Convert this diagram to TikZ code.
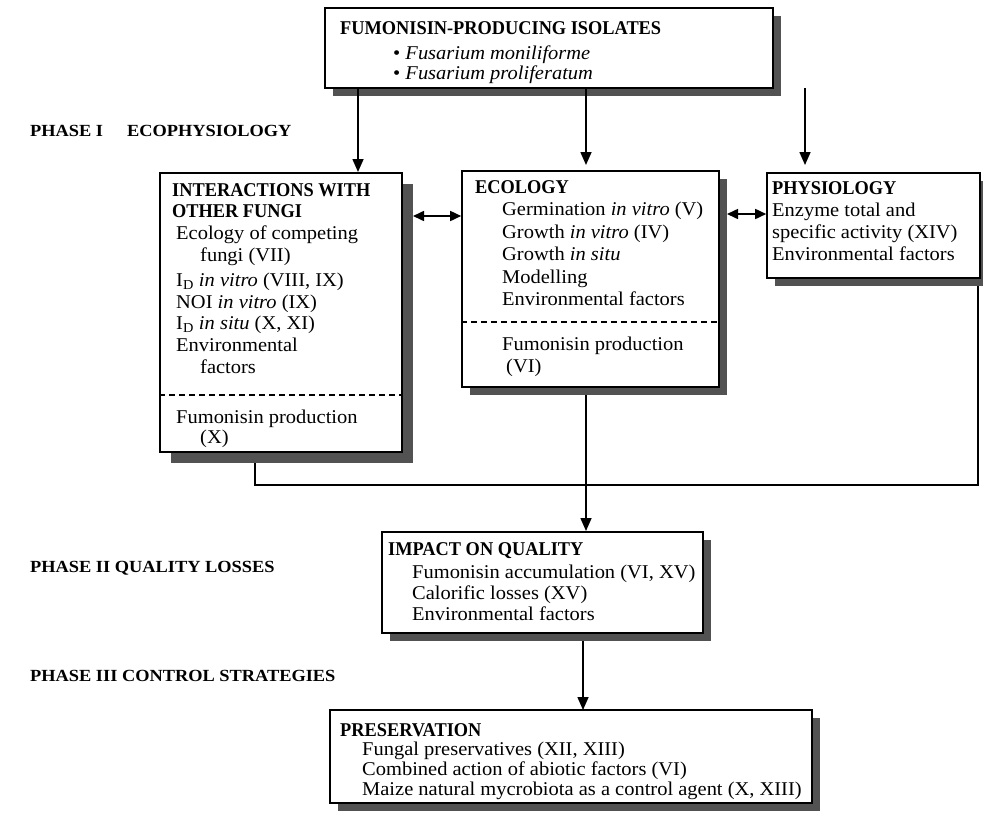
\documentclass[tikz,border=0pt]{standalone}
\usepackage{fontspec}
\setmainfont[FakeStretch=1.05]{Liberation Serif}
\newfontfamily\headfont[FakeStretch=0.94]{Liberation Serif}
\newfontfamily\phasefont[FakeStretch=1.08]{Liberation Serif}
\usetikzlibrary{arrows.meta,shadows,fit}

\begin{document}
\begin{tikzpicture}[x=1pt,y=-1pt,
  frame/.style={draw=black, line width=1.6pt, fill=white, inner sep=0pt,
    drop shadow={shadow xshift=#1, shadow yshift=-#1, fill=black!68, opacity=1}},
  frame/.default=8pt,
  tx/.style={anchor=base west, inner sep=0pt, font=\fontsize{19.5}{21}\selectfont},
  hd/.style={tx, font=\headfont\fontsize{19.5}{21}\selectfont\bfseries},
  ph/.style={anchor=base west, inner sep=0pt, font=\phasefont\fontsize{17}{19}\selectfont\bfseries},
  link/.style={draw=black, line width=1.6pt},
  arr/.style={link, -{Triangle[length=13pt,width=11pt]}},
  dbl/.style={link, {Triangle[length=11pt,width=10pt]}-{Triangle[length=11pt,width=10pt]}},
  sep/.style={draw=black, line width=1.4pt, dash pattern=on 6pt off 4pt}
]
\useasboundingbox (0,0) rectangle (983,817);

% anchor points for the connectors
\coordinate (sL) at (358,88);
\coordinate (sM) at (586,88);
\coordinate (sR) at (805,88);
\coordinate (eL) at (358,172);
\coordinate (eM) at (586,165);
\coordinate (eR) at (805,165);
\coordinate (dA) at (413,216);
\coordinate (dB) at (727,214);
\coordinate (jL) at (255,485);
\coordinate (jR) at (978,485);

% connectors (drawn first, boxes sit on top)
\coordinate (lbfoot) at (255,452);
\coordinate (phfoot) at (978,278);
\coordinate (ecofoot) at (586,387);
\coordinate (impfoot) at (583,633);
\draw[link] (lbfoot) -- (jL) -- (jR) -- (phfoot);
\draw[arr] (ecofoot) -- (586,531);
\draw[arr] (impfoot) -- (583,710);

% boxes
\node[frame, fit={(325,8) (773,88)}] (top) {};
\node[frame=11pt, fit={(160,173) (402,452)}] (lb) {};
\node[frame, fit={(462,171) (719,387)}] (eco) {};
\node[frame, fit={(767,173) (980,278)}] (phy) {};
\node[frame, fit={(382,532) (703,633)}] (imp) {};
\node[frame, fit={(330,710) (812,803)}] (pre) {};

% arrows from the isolates box
\draw[arr] (sL) -- (eL);
\draw[arr] (sM) -- (eM);
\draw[arr] (sR) -- (eR);
\draw[dbl] (dA) -- (eco.west |- dA);
\draw[dbl] (dB) -- (phy.west |- dB);

% dashed separators
\coordinate (cutL) at (0,395);
\coordinate (cutE) at (0,322);
\draw[sep] (lb.west |- cutL) -- (lb.east |- cutL);
\draw[sep] (eco.west |- cutE) -- (eco.east |- cutE);

% isolates
\node[hd] (t0) at (340,34) {FUMONISIN-PRODUCING ISOLATES};
\node[tx] (t1) at (393,59) {\textbullet\ \textit{Fusarium moniliforme}};
\node[tx] (t2) at (393,79) {\textbullet\ \textit{Fusarium proliferatum}};

% phase labels
\node[ph] (p1) at (30,136) {PHASE I};
\node[ph] (p1b) at (127,136) {ECOPHYSIOLOGY};
\node[ph] (p2) at (30,572) {PHASE II QUALITY LOSSES};
\node[ph] (p3) at (30,681) {PHASE III CONTROL STRATEGIES};

% interactions with other fungi
\node[hd] (l0) at (172,196) {INTERACTIONS WITH};
\node[hd] (l1) at (172,217) {OTHER FUNGI};
\node[tx] (l2) at (176,239) {Ecology of competing};
\node[tx] (l3) at (200,261) {fungi (VII)};
\node[tx] (l4) at (176,286) {I\textsubscript{D} \textit{in vitro} (VIII, IX)};
\node[tx] (l5) at (176,308) {NOI \textit{in vitro} (IX)};
\node[tx] (l6) at (176,329) {I\textsubscript{D} \textit{in situ} (X, XI)};
\node[tx] (l7) at (176,351) {Environmental};
\node[tx] (l8) at (200,373) {factors};
\node[tx] (l9) at (176,423) {Fumonisin production};
\node[tx] (l10) at (200,443) {(X)};

% ecology
\node[hd] (e0) at (475,193) {ECOLOGY};
\node[tx] (e1) at (502,215) {Germination \textit{in vitro} (V)};
\node[tx] (e2) at (502,238) {Growth \textit{in vitro} (IV)};
\node[tx] (e3) at (502,260) {Growth \textit{in situ}};
\node[tx] (e4) at (502,283) {Modelling};
\node[tx] (e5) at (502,305) {Environmental factors};
\node[tx] (e6) at (502,350) {Fumonisin production};
\node[tx] (e7) at (506,372) {(VI)};

% physiology
\node[hd] (f0) at (772,194) {PHYSIOLOGY};
\node[tx] (f1) at (772,216) {Enzyme total and};
\node[tx] (f2) at (772,238) {specific activity (XIV)};
\node[tx] (f3) at (772,260) {Environmental factors};

% impact on quality
\node[hd] (q0) at (388,555) {IMPACT ON QUALITY};
\node[tx] (q1) at (412,578) {Fumonisin accumulation (VI, XV)};
\node[tx] (q2) at (412,599) {Calorific losses (XV)};
\node[tx] (q3) at (412,620) {Environmental factors};

% preservation
\node[hd] (r0) at (340,736) {PRESERVATION};
\node[tx] (r1) at (362,755) {Fungal preservatives (XII, XIII)};
\node[tx] (r2) at (362,775) {Combined action of abiotic factors (VI)};
\node[tx] (r3) at (362,795) {Maize natural mycrobiota as a control agent (X, XIII)};
\end{tikzpicture}
\end{document}
